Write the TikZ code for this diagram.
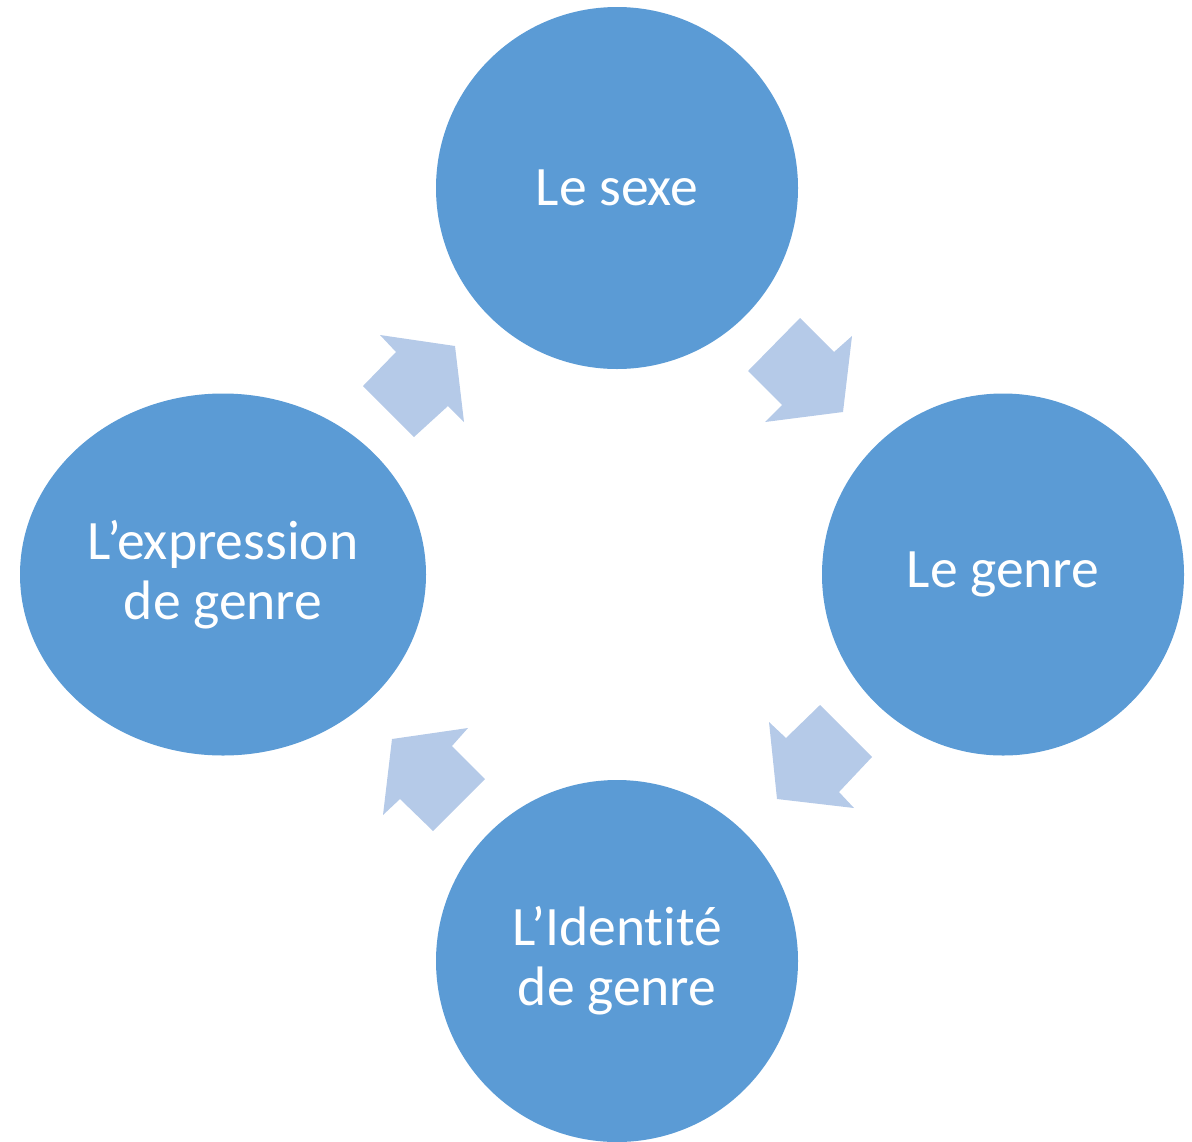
\documentclass[tikz,border=0pt]{standalone}
\usepackage{fontspec}
\setmainfont{Carlito}[Ligatures={NoCommon}]
\usetikzlibrary{shapes.geometric}
\definecolor{cyclefill}{HTML}{5B9BD5}
\definecolor{arrowfill}{HTML}{B5CAE8}
\tikzset{
  stage/.style={circle,fill=cyclefill,inner sep=0pt,minimum size=181pt,
    text=white,align=center,font=\fontsize{27.8}{30}\selectfont},
  stagewide/.style={stage,ellipse,minimum width=203pt,minimum height=181pt},
  blockarrow/.style={fill=arrowfill}
}
\begin{document}
\begin{tikzpicture}[x=0.5pt,y=-0.5pt]
\useasboundingbox (0,0) rectangle (1192,1141);
% the four stages
\node[stage] (sexe) at (617,188) {Le sexe};
\node[stage] (genre) at (1003,574.5) {Le genre};
\node[stage] (identite) at (617,961) {L’Identité\\de genre};
\node[stagewide] (expression) at (223,574.5) {L’expression\\de genre};
% block arrows between them
\fill[blockarrow] (800,318) -- (834,352) -- (852,336) -- (843,412) -- (765,422) -- (782,405) -- (748,371) -- cycle;
\fill[blockarrow] (820,705) -- (872,757) -- (839,792) -- (854,808) -- (777,799) -- (769,722) -- (786,738) -- cycle;
\fill[blockarrow] (468,728) -- (452,746) -- (485,779) -- (433,831) -- (400,799) -- (383,815) -- (392,739) -- cycle;
\fill[blockarrow] (380,335) -- (455,346) -- (464,422) -- (448,406) -- (414,437) -- (363,386) -- (396,352) -- cycle;
\end{tikzpicture}
\end{document}
